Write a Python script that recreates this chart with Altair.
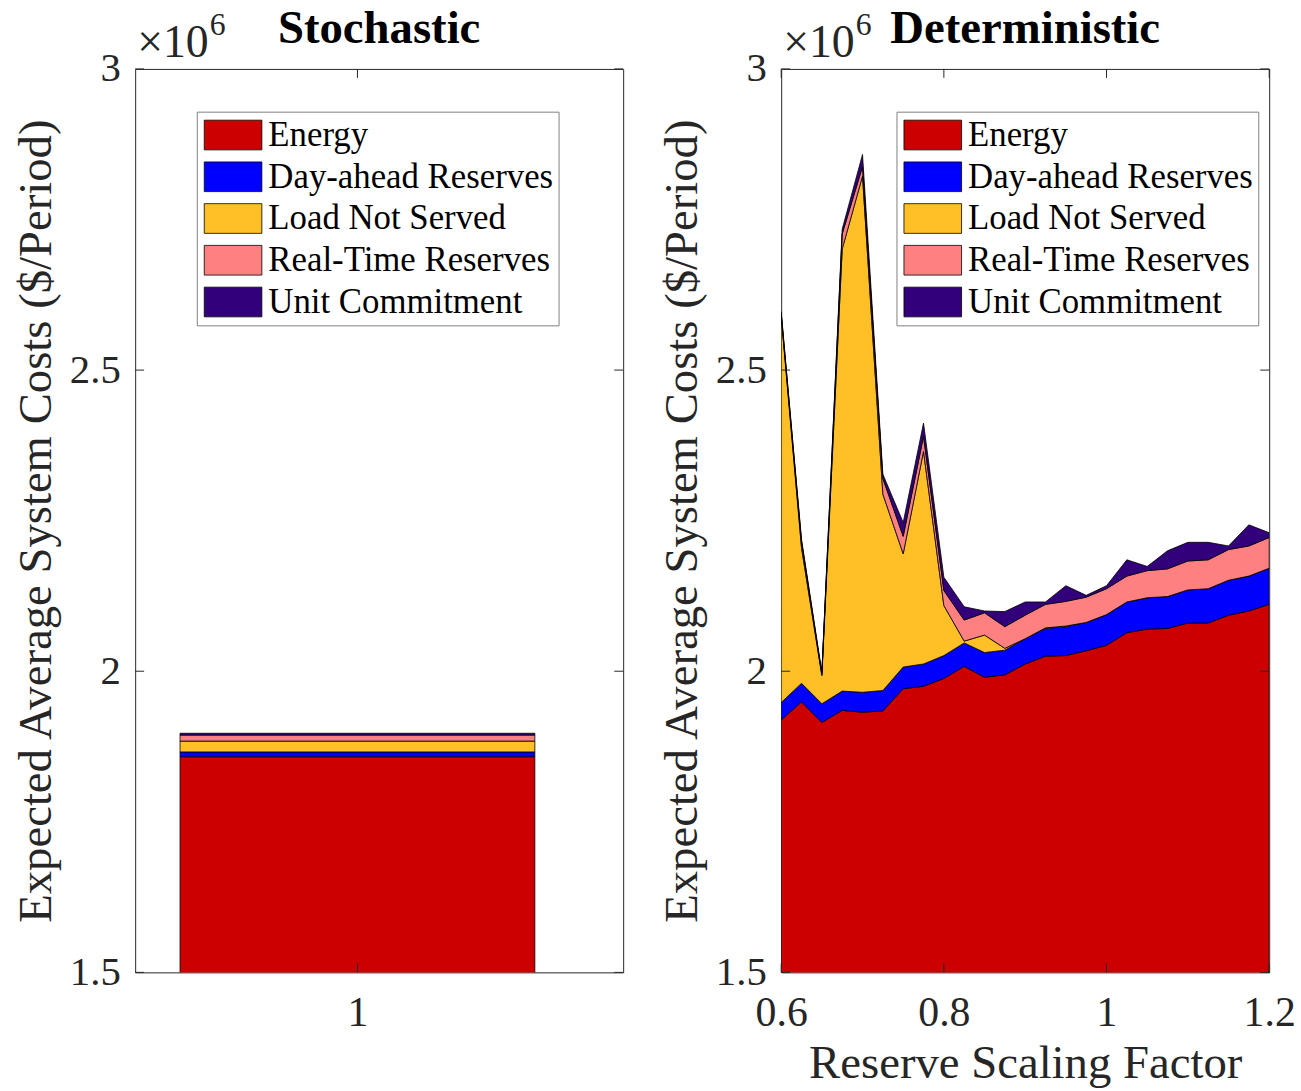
import altair as alt
import pandas as pd

FONT = "Liberation Serif"

components = ["Energy", "Day-ahead Reserves", "Load Not Served",
              "Real-Time Reserves", "Unit Commitment"]
colors = ["#CC0000", "#0000FF", "#FFBF26", "#FF8080", "#31007A"]

# Stochastic case (values in 10^6 $/Period)
stoch_x = [1]
stoch_values = [1.858, 0.008, 0.018, 0.010, 0.003]

# Deterministic case (values in 10^6 $/Period)
det_x = [0.6, 0.625, 0.65, 0.675, 0.7, 0.725, 0.75, 0.775, 0.8, 0.825,
         0.85, 0.875, 0.9, 0.925, 0.95, 0.975, 1.0, 1.025, 1.05, 1.075,
         1.1, 1.125, 1.15, 1.175, 1.2]
det_energy = [1.919, 1.949, 1.915, 1.935, 1.932, 1.934, 1.971, 1.975, 1.988, 2.008,
              1.990, 1.994, 2.012, 2.025, 2.026, 2.034, 2.043, 2.064, 2.070, 2.071,
              2.080, 2.080, 2.093, 2.100, 2.111]
det_da = [0.029, 0.031, 0.031, 0.032, 0.033, 0.034, 0.036, 0.037, 0.038, 0.039,
          0.041, 0.041, 0.042, 0.046, 0.048, 0.047, 0.051, 0.051, 0.052, 0.053,
          0.055, 0.057, 0.058, 0.058, 0.060]
det_lns = [0.642, 0.225, 0.047, 0.734, 0.857, 0.326, 0.188, 0.353, 0.083, 0.003,
           0.029, 0.003, 0.000, 0.001, 0.001, 0.000, 0.000, 0.000, 0.000, 0.000,
           0.000, 0.000, 0.000, 0.000, 0.000]
det_rt = [0.004, 0.010, 0.003, 0.025, 0.016, 0.026, 0.029, 0.025, 0.025, 0.035,
          0.037, 0.036, 0.039, 0.039, 0.041, 0.042, 0.043, 0.043, 0.045, 0.046,
          0.048, 0.048, 0.051, 0.050, 0.051]
det_uc = [0.003, 0.004, 0.002, 0.008, 0.020, 0.007, 0.023, 0.022, 0.022, 0.022,
          0.003, 0.025, 0.022, 0.004, 0.026, 0.003, 0.005, 0.027, 0.007, 0.030,
          0.031, 0.029, 0.006, 0.035, 0.008]

y_ticks = [1.5, 2, 2.5, 3]
stoch_x_ticks = [1]
det_x_ticks = [0.6, 0.8, 1, 1.2]
y_title = "Expected Average System Costs ($/Period)"

# ---- tables ----
stoch_rows = []
for k, (c, v) in enumerate(zip(components, stoch_values)):
    stoch_rows.append({"x": stoch_x[0], "component": c, "value": v, "order": k})
stoch_df = pd.DataFrame(stoch_rows)

det_series = [det_energy, det_da, det_lns, det_rt, det_uc]
det_rows = []
for k, (c, s) in enumerate(zip(components, det_series)):
    for xv, v in zip(det_x, s):
        det_rows.append({"x": xv, "component": c, "value": v, "order": k})
det_df = pd.DataFrame(det_rows)

W, H = 491, 909
TK = 9
FRAME = "#262626"

yscale = alt.Scale(domain=[1.5, 3], nice=False, zero=False)
color_scale = alt.Scale(domain=components, range=colors)


def yaxis():
    return alt.Axis(values=y_ticks, format="~g", title=y_title,
                    labelFont=FONT, labelFontSize=41, labelColor=FRAME,
                    titleFont=FONT, titleFontSize=47, titleFontWeight="normal",
                    titleColor=FRAME, ticks=False, domain=False, grid=False,
                    labelPadding=15, titlePadding=9, labelFlush=False,
                    labelOverlap=False)


def xaxis(vals, title):
    kw = dict(values=vals, format="~g", labelFont=FONT, labelFontSize=42,
              labelColor=FRAME, ticks=False, domain=False, grid=False,
              labelPadding=20, labelFlush=False, labelOverlap=False,
              titleFont=FONT, titleFontSize=47, titleFontWeight="normal",
              titleColor=FRAME, titlePadding=8)
    kw["title"] = title if title else None
    return alt.Axis(**kw)


def legend(lx):
    return alt.Legend(orient="none", legendX=lx, legendY=43, title=None,
                      symbolType="M-1.61,-0.83H1.61V0.83H-1.61Z", symbolSize=1296,
                      symbolStrokeColor="black", symbolStrokeWidth=0.8,
                      symbolOpacity=1, labelFont=FONT, labelFontSize=35,
                      labelColor="black", labelOffset=17, symbolOffset=13,
                      padding=5, rowPadding=5, fillColor="white",
                      strokeColor="#808080", labelLimit=500)


def tick_layers(xscale, xvals, xenc_axis):
    ydf = pd.DataFrame({"v": y_ticks})
    xdf = pd.DataFrame({"v": xvals})
    rule = dict(color=FRAME, strokeWidth=1)
    yl = alt.Chart(ydf).mark_rule(**rule).encode(
        y=alt.Y("v:Q", scale=yscale, axis=yaxis()), x=alt.value(0), x2=alt.value(TK))
    yr = alt.Chart(ydf).mark_rule(**rule).encode(
        y=alt.Y("v:Q", scale=yscale, axis=yaxis()), x=alt.value(W - TK), x2=alt.value(W))
    xb = alt.Chart(xdf).mark_rule(**rule).encode(
        x=alt.X("v:Q", scale=xscale, axis=xenc_axis), y=alt.value(H), y2=alt.value(H - TK))
    xt = alt.Chart(xdf).mark_rule(**rule).encode(
        x=alt.X("v:Q", scale=xscale, axis=xenc_axis), y=alt.value(0), y2=alt.value(TK))
    return [yl, yr, xb, xt]


def exponent_layers():
    base = alt.Chart(pd.DataFrame({"t": ["\u00d710"]})).mark_text(
        align="left", baseline="alphabetic", font=FONT, fontSize=46, color=FRAME
    ).encode(text="t:N", x=alt.value(2), y=alt.value(-12))
    sup = alt.Chart(pd.DataFrame({"t": ["6"]})).mark_text(
        align="left", baseline="alphabetic", font=FONT, fontSize=32, color=FRAME
    ).encode(text="t:N", x=alt.value(75), y=alt.value(-34))
    return [base, sup]


def panel_title(text):
    return alt.Title(text, font=FONT, fontSize=47, fontWeight="bold",
                     color="black", anchor="middle", offset=-44)


# ---- left: stochastic ----
sx_scale = alt.Scale(domain=[0.5, 1.6], nice=False, zero=False)
sx_axis = xaxis(stoch_x_ticks, None)
bars = alt.Chart(stoch_df).mark_bar(size=357, stroke="black", strokeWidth=0.8,
                                    clip=True, opacity=1).encode(
    x=alt.X("x:Q", scale=sx_scale, axis=sx_axis),
    y=alt.Y("value:Q", stack="zero", scale=yscale, axis=yaxis()),
    color=alt.Color("component:N", scale=color_scale, legend=legend(62)),
    order=alt.Order("order:Q", sort="ascending"),
)
left = alt.layer(bars, *tick_layers(sx_scale, stoch_x_ticks, sx_axis),
                 *exponent_layers()).properties(
    width=W, height=H, title=panel_title("Stochastic"))

# ---- right: deterministic ----
dx_scale = alt.Scale(domain=[0.6, 1.2], nice=False, zero=False)
dx_axis = xaxis(det_x_ticks, "Reserve Scaling Factor")
areas = alt.Chart(det_df).mark_area(stroke="black", strokeWidth=0.8, clip=True,
                                    opacity=1, interpolate="linear").encode(
    x=alt.X("x:Q", scale=dx_scale, axis=dx_axis),
    y=alt.Y("value:Q", stack="zero", scale=yscale, axis=yaxis()),
    color=alt.Color("component:N", scale=color_scale, legend=legend(116)),
    order=alt.Order("order:Q", sort="ascending"),
)
right = alt.layer(areas, *tick_layers(dx_scale, det_x_ticks, dx_axis),
                  *exponent_layers()).properties(
    width=W, height=H, title=panel_title("Deterministic"))

chart = alt.hconcat(left, right, spacing=34).resolve_scale(
    color="independent"
).properties(
    padding={"left": 12, "top": 1, "right": 5, "bottom": 0},
    background="white",
).configure_view(stroke=FRAME, strokeWidth=1)

chart.save("out.html", embed_options={"renderer": "svg", "actions": False})
